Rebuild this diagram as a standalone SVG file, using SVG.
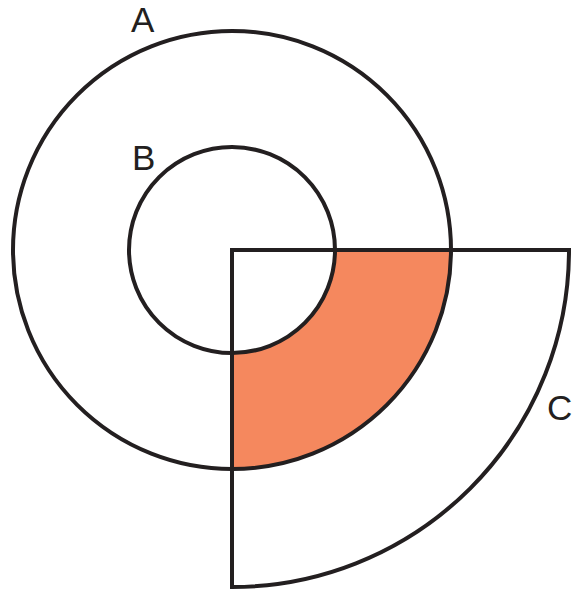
<svg xmlns="http://www.w3.org/2000/svg" width="577" height="597" viewBox="0 0 577 597">
<style>
.ln{fill:none;stroke:#231f20;stroke-width:4;stroke-linejoin:miter}
.lbl{font-family:"Liberation Sans",Arial,sans-serif;font-size:35px;fill:#231f20}
</style>
<rect width="577" height="597" fill="#fff"/>
<g id="region">
<path d="M335,250 L451,250 A219,219 0 0 1 232,469 L232,353 A103,103 0 0 0 335,250 Z" fill="#f5885e"/>
</g>
<g id="A">
<circle class="ln" cx="232" cy="250" r="219"/>
<text class="lbl" x="131" y="32">A</text>
</g>
<g id="B">
<circle class="ln" cx="232" cy="250" r="103"/>
<text class="lbl" x="132" y="170">B</text>
</g>
<g id="C">
<path class="ln" d="M232,250 L569,250 A337,337 0 0 1 232,587 Z"/>
<text class="lbl" x="547" y="420">C</text>
</g>
</svg>
